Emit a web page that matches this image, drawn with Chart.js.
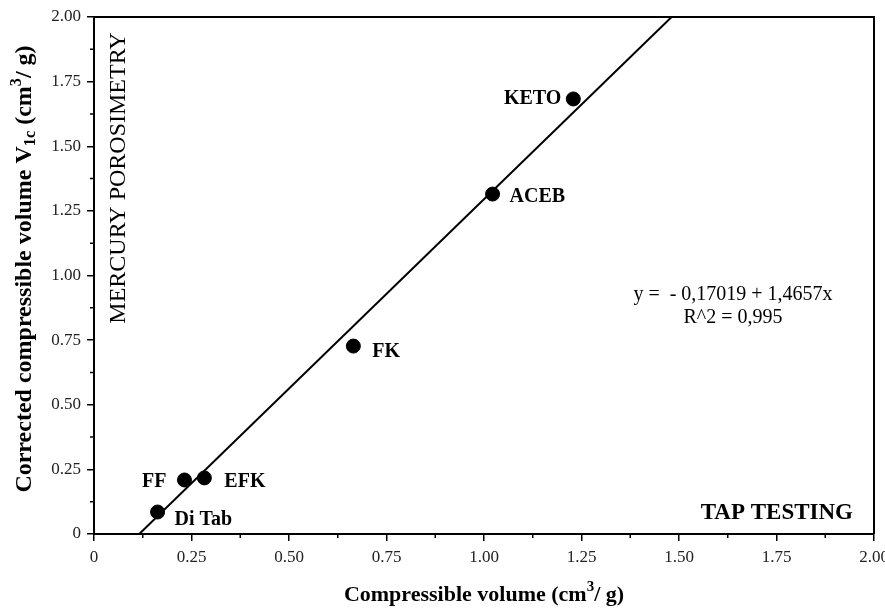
<!DOCTYPE html>
<html>
<head>
<meta charset="utf-8">
<script src="https://cdn.jsdelivr.net/npm/chart.js@4"></script>
<style>
  html, body { margin: 0; padding: 0; background: #fff; }
  #wrap { width: 885px; height: 608px; }
</style>
</head>
<body>
<div id="wrap"><canvas id="chart"></canvas></div>
<script>
// values
const names   = ['Di Tab', 'FF', 'EFK', 'FK', 'ACEB', 'KETO'];
const compVol = [0.163, 0.232, 0.283, 0.665, 1.022, 1.229];   // x, tap testing
const corrVol = [0.085, 0.209, 0.217, 0.727, 1.315, 1.683];   // y, mercury porosimetry
const fitX = [0.116, 1.481];
const fitY = [0, 2.0];
const tickVals   = [0, 0.25, 0.5, 0.75, 1.0, 1.25, 1.5, 1.75, 2.0];
const tickLabels = ['0', '0.25', '0.50', '0.75', '1.00', '1.25', '1.50', '1.75', '2.00'];
const eqLines = ['y =  - 0,17019 + 1,4657x', 'R^2 = 0,995'];

const FONT = "'Liberation Serif', 'DejaVu Serif', serif";

// where each name sits next to its dot
const labelPos = {
  'Di Tab': { dx: 17, dy: 8, align: 'left' },
  'FF':     { dx: -18, dy: 2, align: 'right' },
  'EFK':    { dx: 20, dy: 4, align: 'left' },
  'FK':     { dx: 19, dy: 6, align: 'left' },
  'ACEB':   { dx: 17, dy: 3, align: 'left' },
  'KETO':   { dx: -12, dy: 0, align: 'right' }
};

function drawRich(ctx, segs, cx, cy, size, angle) {
  ctx.save();
  ctx.translate(cx, cy);
  ctx.rotate(angle);
  ctx.textBaseline = 'middle';
  ctx.textAlign = 'left';
  let total = 0;
  segs.forEach(s => {
    ctx.font = 'bold ' + (s.s ? size * 0.68 : size) + 'px ' + FONT;
    s.w = ctx.measureText(s.t).width;
    total += s.w;
  });
  let x = -total / 2;
  segs.forEach(s => {
    ctx.font = 'bold ' + (s.s ? size * 0.68 : size) + 'px ' + FONT;
    let dy = s.s === 'sup' ? -size * 0.36 : s.s === 'sub' ? size * 0.26 : 0;
    ctx.fillText(s.t, x, dy);
    x += s.w;
  });
  ctx.restore();
}

const extras = {
  id: 'extras',
  afterDraw(chart) {
    const ctx = chart.ctx;
    const a = chart.chartArea;
    const xs = chart.scales.x, ys = chart.scales.y;
    ctx.save();
    ctx.strokeStyle = '#000';
    ctx.fillStyle = '#000';

    // box top and right
    ctx.lineWidth = 2;
    ctx.beginPath();
    ctx.moveTo(a.left, a.top);
    ctx.lineTo(a.right, a.top);
    ctx.lineTo(a.right, a.bottom);
    ctx.stroke();

    // minor ticks
    ctx.lineWidth = 1.5;
    ctx.beginPath();
    for (let i = 0; i < tickVals.length - 1; i++) {
      const m = (tickVals[i] + tickVals[i + 1]) / 2;
      const px = xs.getPixelForValue(m);
      ctx.moveTo(px, a.bottom);
      ctx.lineTo(px, a.bottom + 4);
      const py = ys.getPixelForValue(m);
      ctx.moveTo(a.left, py);
      ctx.lineTo(a.left - 4, py);
    }
    ctx.stroke();

    // point names
    const meta = chart.getDatasetMeta(0);
    ctx.font = 'bold 20px ' + FONT;
    ctx.textBaseline = 'middle';
    meta.data.forEach((pt, i) => {
      const p = labelPos[names[i]];
      ctx.textAlign = p.align;
      ctx.fillText(names[i], pt.x + p.dx, pt.y + p.dy);
    });

    // corner notes
    ctx.font = 'bold 23px ' + FONT;
    ctx.textAlign = 'right';
    ctx.fillText('TAP TESTING', a.right - 21, a.bottom - 21);

    ctx.save();
    ctx.translate(119, 178);
    ctx.rotate(-Math.PI / 2);
    ctx.textAlign = 'center';
    ctx.font = '24px ' + FONT;
    ctx.fillText('MERCURY POROSIMETRY', 0, 0);
    ctx.restore();

    // regression equation
    ctx.font = '20px ' + FONT;
    ctx.textAlign = 'center';
    ctx.fillText(eqLines[0], 733, 295);
    ctx.fillText(eqLines[1], 733, 318);

    // axis titles
    drawRich(ctx, [
      { t: 'Compressible volume (cm' }, { t: '3', s: 'sup' }, { t: '/ g)' }
    ], (a.left + a.right) / 2, 595, 22, 0);
    drawRich(ctx, [
      { t: 'Corrected compressible volume V' }, { t: '1c', s: 'sub' },
      { t: ' (cm' }, { t: '3', s: 'sup' }, { t: '/ g)' }
    ], 25, 269, 24, -Math.PI / 2);

    ctx.restore();
  }
};

function axis(fitFn) {
  return {
    type: 'linear',
    min: 0,
    max: 2,
    afterBuildTicks: s => { s.ticks = tickVals.map(v => ({ value: v })); },
    afterFit: fitFn,
    ticks: {
      callback: (v, i) => tickLabels[i],
      color: '#222',
      font: { family: FONT, size: 17 },
      padding: 6
    },
    grid: { drawOnChartArea: false, drawTicks: true, tickLength: 7, color: '#000', lineWidth: 1.5 },
    border: { color: '#000', width: 2 }
  };
}

new Chart(document.getElementById('chart'), {
  type: 'scatter',
  data: {
    datasets: [
      {
        label: 'samples',
        data: compVol.map((x, i) => ({ x: x, y: corrVol[i] })),
        backgroundColor: '#000',
        borderColor: '#000',
        pointRadius: 7,
        pointHoverRadius: 7
      },
      {
        type: 'line',
        label: 'fit',
        data: fitX.map((x, i) => ({ x: x, y: fitY[i] })),
        borderColor: '#000',
        borderWidth: 2,
        pointRadius: 0,
        fill: false
      }
    ]
  },
  options: {
    responsive: true,
    maintainAspectRatio: false,
    animation: false,
    layout: { padding: { top: 17, right: 11, left: 0, bottom: 0 } },
    plugins: { legend: { display: false }, tooltip: { enabled: false } },
    scales: {
      x: axis(s => { s.height = 74; s.paddingLeft = 0; s.paddingRight = 0; }),
      y: axis(s => { s.width = 94; s.paddingTop = 0; s.paddingBottom = 0; })
    }
  },
  plugins: [extras]
});
</script>
</body>
</html>
